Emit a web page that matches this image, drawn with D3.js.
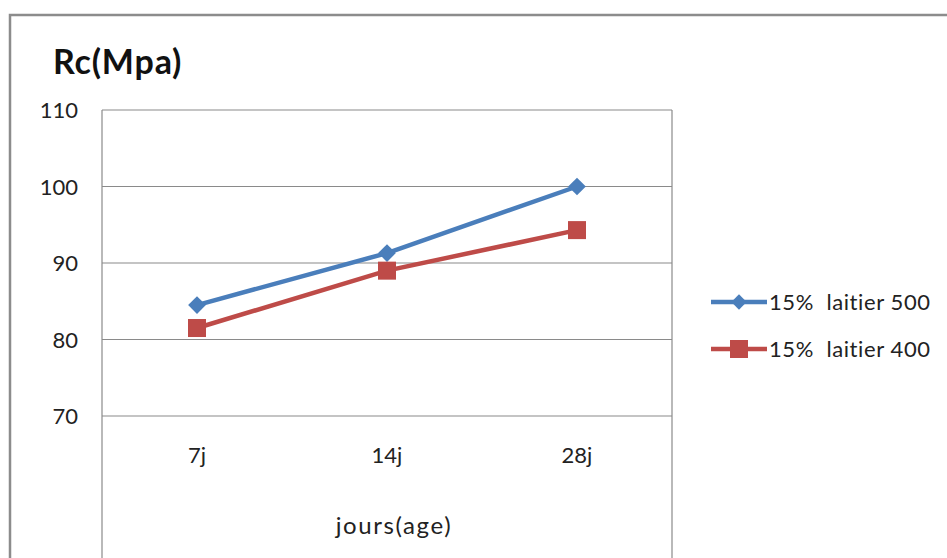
<!DOCTYPE html>
<html>
<head>
<meta charset="utf-8">
<script src="https://cdn.jsdelivr.net/npm/d3@7"></script>
<style>
  html, body { margin: 0; padding: 0; background: #fff; }
  svg { display: block; font-family: Lato, "Open Sans", sans-serif; }
</style>
</head>
<body>
<svg id="chart" width="947" height="558"></svg>
<script>
// Compressive strength by curing age
const categories = ["7j", "14j", "28j"];
const serie500 = [84.5, 91.3, 100.0];
const serie400 = [81.5, 89.0, 94.3];
const seriesNames = ["15%  laitier 500", "15%  laitier 400"];
const yTicks = [70, 80, 90, 100, 110];

const svg = d3.select("#chart");
const W = 947, H = 558;
const plot = { left: 102, right: 672, top: 110, bottom: 416 };
const font = "Lato, 'Open Sans', sans-serif";

// outer chart frame
svg.append("path")
  .attr("d", `M10,${H} V15 H${W}`)
  .attr("fill", "none").attr("stroke", "#8c8c8c").attr("stroke-width", 2.5);

const x = d3.scaleBand().domain(categories).range([plot.left, plot.right]);
const y = d3.scaleLinear().domain([70, 110]).range([plot.bottom, plot.top]);

// horizontal gridlines
svg.append("g").selectAll("line").data(yTicks).join("line")
  .attr("x1", plot.left).attr("x2", plot.right)
  .attr("y1", d => y(d)).attr("y2", d => y(d))
  .attr("stroke", "#8a8a8a").attr("stroke-width", 1.2);

// plot area side borders run down past the axis labels
svg.append("line").attr("x1", plot.left).attr("x2", plot.left)
  .attr("y1", plot.top).attr("y2", H).attr("stroke", "#8a8a8a").attr("stroke-width", 1.2);
svg.append("line").attr("x1", plot.right).attr("x2", plot.right)
  .attr("y1", plot.top).attr("y2", H).attr("stroke", "#8a8a8a").attr("stroke-width", 1.2);

// y tick labels
const yAxis = d3.axisLeft(y).tickValues(yTicks).tickSize(0).tickPadding(0);
const gy = svg.append("g").attr("transform", `translate(78,0)`).call(yAxis);
gy.select(".domain").remove();
gy.selectAll("text").attr("font-size", 22).attr("fill", "#222")
  .attr("font-family", font).attr("dy", "0.36em").attr("y", 0);

// x tick labels
const xAxis = d3.axisBottom(x).tickSize(0).tickPadding(0);
const gx = svg.append("g").attr("transform", `translate(0,463)`).call(xAxis);
gx.select(".domain").remove();
gx.selectAll("text").attr("font-size", 22).attr("fill", "#222")
  .attr("font-family", font).attr("dy", 0).attr("y", 0);

// axis titles
svg.append("text").attr("x", 53).attr("y", 74)
  .attr("font-size", 34).attr("font-weight", "bold").attr("fill", "#111")
  .attr("letter-spacing", 0.8)
  .text("Rc(Mpa)");
svg.append("text").attr("x", 394).attr("y", 534)
  .attr("text-anchor", "middle").attr("font-size", 24).attr("fill", "#222")
  .attr("letter-spacing", 1.6)
  .text("jours(age)");

const cx = d => x(d) + x.bandwidth() / 2;
const line = d3.line().x(d => cx(d.cat)).y(d => y(d.v));

const blue = "#4a7ebb", red = "#be4b48";
const data500 = categories.map((c, i) => ({ cat: c, v: serie500[i] }));
const data400 = categories.map((c, i) => ({ cat: c, v: serie400[i] }));

const diamond = d3.symbol().type(d3.symbolDiamond2).size(200);

svg.append("path").datum(data500).attr("d", line)
  .attr("fill", "none").attr("stroke", blue).attr("stroke-width", 4.5);
svg.append("path").datum(data400).attr("d", line)
  .attr("fill", "none").attr("stroke", red).attr("stroke-width", 4.5);

svg.append("g").selectAll("path").data(data500).join("path")
  .attr("d", diamond)
  .attr("transform", d => `translate(${cx(d.cat)},${y(d.v)})`)
  .attr("fill", blue);
svg.append("g").selectAll("rect").data(data400).join("rect")
  .attr("x", d => cx(d.cat) - 9).attr("y", d => y(d.v) - 9)
  .attr("width", 18).attr("height", 18).attr("fill", red);

// legend
const legend = [
  { name: seriesNames[0], color: blue, marker: "diamond", yy: 302 },
  { name: seriesNames[1], color: red, marker: "square", yy: 349 }
];
const lg = svg.append("g");
legend.forEach(l => {
  lg.append("line").attr("x1", 711).attr("x2", 767)
    .attr("y1", l.yy).attr("y2", l.yy)
    .attr("stroke", l.color).attr("stroke-width", 4.5);
  if (l.marker === "diamond") {
    lg.append("path").attr("d", d3.symbol().type(d3.symbolDiamond2).size(150)())
      .attr("transform", `translate(739,${l.yy})`).attr("fill", l.color);
  } else {
    lg.append("rect").attr("x", 730).attr("y", l.yy - 9)
      .attr("width", 18).attr("height", 18).attr("fill", l.color);
  }
  lg.append("text").attr("x", 769).attr("y", l.yy + 8)
    .attr("font-size", 22).attr("fill", "#222").attr("letter-spacing", 0.6)
    .attr("xml:space", "preserve").style("white-space", "pre")
    .text(l.name);
});
</script>
</body>
</html>
